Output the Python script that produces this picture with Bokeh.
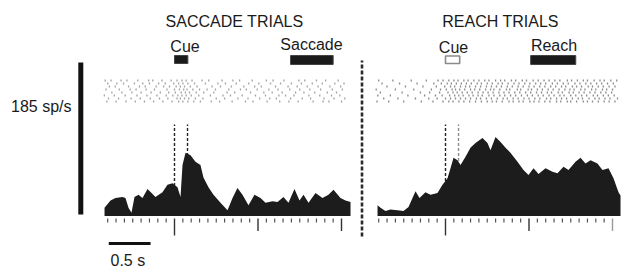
import numpy as np
from bokeh.plotting import figure
from bokeh.models import Label
from bokeh.embed import file_html
from bokeh.resources import INLINE

# ---------------- data ----------------
# PSTH, saccade trials (time from cue, s ; firing rate, sp/s)
SAC_T = [-0.838, -0.766, -0.707, -0.623, -0.587, -0.551, -0.515, -0.479, -0.431, -0.383,
         -0.323, -0.275, -0.228, -0.144, -0.084, -0.024, 0.036, 0.072, 0.096, 0.132,
         0.192, 0.251, 0.311, 0.347, 0.407, 0.467, 0.551, 0.635, 0.695, 0.754,
         0.814, 0.886, 0.958, 1.030, 1.090, 1.174, 1.234, 1.305, 1.365, 1.437,
         1.497, 1.545, 1.605, 1.689, 1.772, 1.844, 1.904, 1.988, 2.048, 2.108]
SAC_RATE = [10, 19, 22, 23, 22, 10, 4, 23, 26, 22,
            33, 28, 23, 29, 38, 40, 35, 23, 62, 77,
            74, 66, 62, 47, 35, 26, 16, 7, 22, 34,
            26, 13, 26, 22, 16, 18, 17, 23, 16, 33,
            19, 26, 16, 28, 22, 26, 32, 22, 19, 17]

# PSTH, reach trials
REA_T = [-0.814, -0.778, -0.719, -0.659, -0.575, -0.503, -0.443, -0.395, -0.359, -0.311,
         -0.240, -0.180, -0.096, -0.036, 0.024, 0.060, 0.096, 0.144, 0.180, 0.240,
         0.299, 0.359, 0.443, 0.503, 0.539, 0.599, 0.659, 0.719, 0.778, 0.862,
         0.934, 0.994, 1.054, 1.114, 1.198, 1.281, 1.341, 1.413, 1.473, 1.557,
         1.617, 1.677, 1.737, 1.820, 1.880, 1.952, 2.012, 2.072, 2.096]
REA_RATE = [13, 10, 6, 8, 7, 6, 11, 22, 30, 22,
            29, 26, 28, 38, 46, 58, 71, 68, 62, 72,
            83, 89, 95, 89, 80, 96, 90, 83, 77, 66,
            56, 50, 58, 51, 58, 54, 52, 60, 56, 66,
            71, 64, 68, 64, 56, 58, 46, 29, 25]

# Raster spike times (centiseconds from cue), one string per trial
SAC_SPIKES = [
    "-83 -76 -64 -57 -44 -31 -26 -15 -4 3 9 14 21 33 41 57 70 78 93 110 118 131 149 156 170 181 196",
    "-80 -69 -61 -48 -38 -30 -19 -11 -1 5 10 16 24 37 52 61 74 89 101 115 127 140 152 165 177 192 203",
    "-78 -71 -55 -42 -35 -22 -13 -6 2 7 12 19 27 45 55 68 83 96 104 121 136 147 159 172 186 199",
    "-82 -66 -53 -46 -34 -24 -9 0 6 11 15 22 30 39 49 65 79 86 99 113 124 138 150 162 175 189 201",
    "-75 -63 -51 -40 -28 -17 -7 1 8 13 18 26 35 47 63 72 91 107 117 129 145 155 168 183 194",
    "-84 -72 -59 -45 -33 -21 -10 -2 4 9 14 20 29 43 58 67 81 97 109 125 133 143 161 174 188 198",
    "-79 -67 -52 -41 -29 -18 -8 3 7 12 17 25 34 50 60 76 88 102 114 122 139 153 163 179 191 204",
    "-81 -70 -58 -47 -36 -25 -14 -3 5 10 16 23 31 44 54 69 85 94 111 126 137 148 166 178 185 200",
]
REA_SPIKES = [
    "-80 -63 -41 -23 -9 -3 4 10 15 22 27 34 40 47 52 60 66 71 79 84 92 97 105 111 118 124 131 137 146 151 158 165 170 178 185 190 198 205",
    "-76 -55 -34 -14 -5 2 7 13 19 25 31 38 43 50 56 63 68 75 82 88 95 101 108 114 120 128 134 141 147 155 161 168 174 181 187 194 201",
    "-70 -48 -27 -11 -1 6 11 18 24 29 36 42 49 55 61 67 74 80 87 93 100 106 113 119 126 132 139 144 152 157 163 171 176 183 189 196 203",
    "-83 -60 -38 -17 -6 1 8 12 17 23 30 35 41 48 54 58 65 73 77 86 90 99 103 110 116 123 129 136 143 149 154 162 167 175 180 188 193 200",
    "-78 -52 -30 -19 -7 3 9 14 20 26 32 39 45 51 57 64 70 76 83 89 96 102 109 115 122 127 135 140 148 153 160 166 173 179 186 192 199",
    "-81 -66 -45 -25 -12 -4 5 11 16 21 28 33 39 44 52 58 65 71 78 84 91 98 104 111 117 124 130 137 142 150 156 163 169 177 182 189 195 202",
    "-74 -57 -36 -20 -10 0 6 12 18 24 30 37 42 49 55 62 69 74 81 87 94 100 107 113 121 126 133 139 145 152 159 164 172 179 184 191 197 206",
    "-82 -68 -50 -29 -15 -3 4 9 16 22 29 36 43 50 56 61 68 76 81 88 93 101 106 112 119 125 133 138 146 150 157 165 170 176 183 190 196 203",
]

# Event epochs (s from cue)
CUE_SAC = (0.0, 0.16)
SACCADE = (1.39, 1.90)
CUE_REA = (0.0, 0.17)
REACH = (1.02, 1.56)
DASH_TIMES = [0.0, 0.156]

MAJOR_TICKS = [0, 1, 2]
MINOR_TICKS = [k / 10 for k in range(-8, 21) if k % 10 != 0]

SCALE_RATE = 185   # sp/s
SCALE_TIME = 0.5   # s

# ---------------- layout ----------------
W, H = 621, 268
PAGE_X0, PAGE_Y0 = 0, 0
PX_PER_S = 83.5
PX_PER_RATE = 152 / 185
ZERO_PAGE_X = 174.0       # left-panel cue onset
BASE_PAGE_Y = 215.5       # PSTH baseline
RIGHT_OFFSET = 271 / PX_PER_S
TEXT_DY = 5               # baseline correction for label placement

x_start = -(ZERO_PAGE_X - PAGE_X0) / PX_PER_S
x_end = x_start + W / PX_PER_S
y_start = -(PAGE_Y0 + H - BASE_PAGE_Y) / PX_PER_RATE
y_end = y_start + H / PX_PER_RATE


def tx(page_x):
    return (page_x - ZERO_PAGE_X) / PX_PER_S


def ry(page_y):
    return (BASE_PAGE_Y - page_y) / PX_PER_RATE


p = figure(width=W, height=H, x_range=(x_start, x_end), y_range=(y_start, y_end),
           x_axis_type=None, y_axis_type=None, toolbar_location=None,
           output_backend="svg", min_border=0, outline_line_color=None,
           background_fill_color="white", border_fill_color="white")
p.grid.visible = False

FONT = "Liberation Sans"
INK = "#1c1c1c"

# dashed event lines
for off, colors in ((0.0, ["#222222", "#222222"]), (RIGHT_OFFSET, ["#222222", "#8a8a8a"])):
    for t, c in zip(DASH_TIMES, colors):
        p.segment(x0=[t + off], y0=[0], x1=[t + off], y1=[ry(124)],
                  line_color=c, line_width=1.4, line_dash="3 2")

# PSTHs
p.varea(x=SAC_T, y1=[0] * len(SAC_T), y2=SAC_RATE, fill_color=INK)
p.varea(x=[t + RIGHT_OFFSET for t in REA_T], y1=[0] * len(REA_T), y2=REA_RATE, fill_color=INK)

# rasters
ROW_TOP_PAGE_Y = 80
ROW_STEP_PX = 3.0
for spikes, off, col in ((SAC_SPIKES, 0.0, "#a3a3a3"), (REA_SPIKES, RIGHT_OFFSET, "#8a8a8a")):
    xs, ys0, ys1 = [], [], []
    for i, trial in enumerate(spikes):
        yc = ry(ROW_TOP_PAGE_Y + i * ROW_STEP_PX)
        for s in trial.split():
            t = int(s) / 100.0
            xs.append(t + off)
            ys0.append(yc - 1.0 / PX_PER_RATE)
            ys1.append(yc + 1.0 / PX_PER_RATE)
    p.segment(x0=xs, y0=ys0, x1=xs, y1=ys1, line_color=col, line_width=1.3)

# tick marks under each PSTH
tick_top = ry(218)
for off, last_col in ((0.0, "#333333"), (RIGHT_OFFSET, "#9a9a9a")):
    mt = [t + off for t in MINOR_TICKS]
    p.segment(x0=mt, y0=[tick_top] * len(mt), x1=mt, y1=[ry(222)] * len(mt),
              line_color="#555555", line_width=1.2)
    for t in MAJOR_TICKS:
        bottom = ry(235) if t == 0 else ry(230.5)
        c = last_col if t == 2 else "#333333"
        p.segment(x0=[t + off], y0=[tick_top], x1=[t + off], y1=[bottom],
                  line_color=c, line_width=1.4)

# event bars
p.quad(left=[CUE_SAC[0]], right=[CUE_SAC[1]], bottom=[ry(63)], top=[ry(55)],
       fill_color="#1a1a1a", line_color="#444444", line_width=1)
p.quad(left=[SACCADE[0]], right=[SACCADE[1]], bottom=[ry(64)], top=[ry(55)],
       fill_color="#1a1a1a", line_color="#444444", line_width=1)
p.quad(left=[CUE_REA[0] + RIGHT_OFFSET], right=[CUE_REA[1] + RIGHT_OFFSET],
       bottom=[ry(63)], top=[ry(55.5)],
       fill_color="white", line_color="#8a8a8a", line_width=1.6)
p.quad(left=[REACH[0] + RIGHT_OFFSET], right=[REACH[1] + RIGHT_OFFSET],
       bottom=[ry(64)], top=[ry(55)],
       fill_color="#1a1a1a", line_color="#444444", line_width=1)

# separator between panels
p.segment(x0=[tx(361.5)], y0=[ry(236)], x1=[tx(361.5)], y1=[ry(60)],
          line_color="#2a2a2a", line_width=2.6, line_dash="4 2")

# scale bars
p.segment(x0=[tx(80.3)], y0=[ry(214)], x1=[tx(80.3)], y1=[ry(214) + SCALE_RATE],
          line_color="#111111", line_width=5)
p.segment(x0=[tx(108.3)], y0=[ry(243)], x1=[tx(108.3) + SCALE_TIME], y1=[ry(243)],
          line_color="#111111", line_width=3)


# texts (page coordinates converted to screen units)
def label(text, page_x, page_y, align="center"):
    p.add_layout(Label(x=page_x - PAGE_X0, y=PAGE_Y0 + H - page_y + TEXT_DY,
                       x_units="screen", y_units="screen", text=text,
                       text_align=align, text_baseline="alphabetic",
                       text_font=FONT, text_font_size="16px", text_color="#1a1a1a"))


label("SACCADE TRIALS", 234, 26)
label("REACH TRIALS", 500, 26)
label("Cue", 184.5, 51)
label("Saccade", 311, 48.5)
label("Cue", 453, 51.5)
label("Reach", 553.5, 50)
label("185 sp/s", 71, 111, align="right")
label("0.5 s", 110, 264.5, align="left")

open("out.html", "w").write(file_html(p, INLINE))
